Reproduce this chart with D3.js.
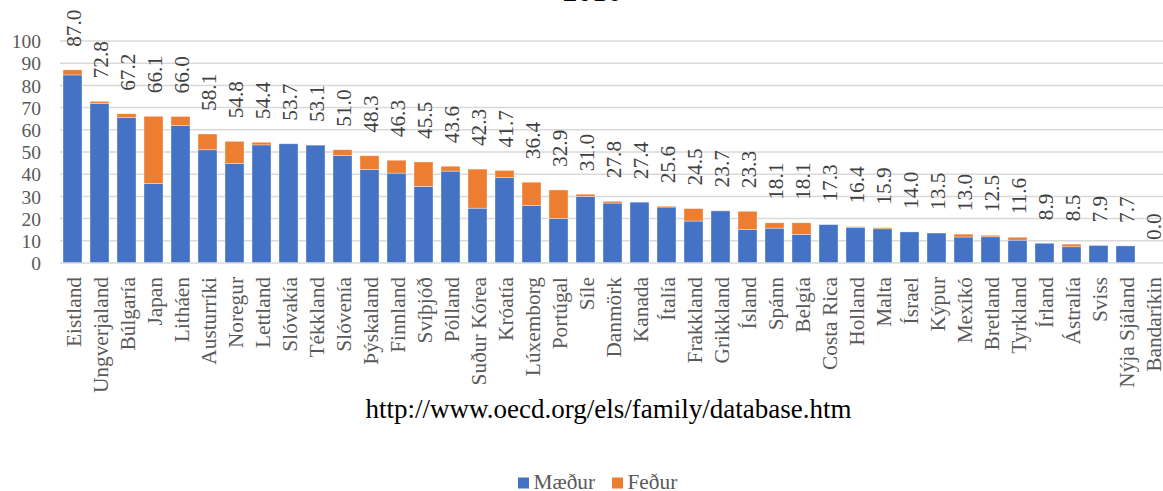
<!DOCTYPE html>
<html>
<head>
<meta charset="utf-8">
<script src="https://cdn.jsdelivr.net/npm/d3@7"></script>
<style>
  html, body { margin: 0; padding: 0; background: #fff; }
  svg { display: block; }
  text { font-family: "Liberation Serif", "Times New Roman", serif; }
</style>
</head>
<body>
<svg id="chart" width="1163" height="491"></svg>
<script>
const categories = ["Eistland","Ungverjaland","Búlgaría","Japan","Litháen","Austurríki","Noregur","Lettland","Slóvakía","Tékkland","Slóvenía","Þýskaland","Finnland","Svíþjóð","Pólland","Suður Kórea","Króatía","Lúxemborg","Portúgal","Síle","Danmörk","Kanada","Ítalía","Frakkland","Grikkland","Ísland","Spánn","Belgía","Costa Rica","Holland","Malta","Ísrael","Kýpur","Mexíkó","Bretland","Tyrkland","Írland","Ástralía","Sviss","Nýja Sjáland","Bandaríkin"];
const totals = [87.0,72.8,67.2,66.1,66.0,58.1,54.8,54.4,53.7,53.1,51.0,48.3,46.3,45.5,43.6,42.3,41.7,36.4,32.9,31.0,27.8,27.4,25.6,24.5,23.7,23.3,18.1,18.1,17.3,16.4,15.9,14.0,13.5,13.0,12.5,11.6,8.9,8.5,7.9,7.7,0.0];
const mothers = [84.7,71.8,65.5,35.8,61.9,51.0,44.8,53.2,53.7,53.1,48.4,42.1,40.5,34.5,41.4,24.7,38.5,25.9,20.1,30.0,27.0,27.4,25.2,18.9,23.5,15.1,15.7,12.9,17.3,15.9,15.4,14.0,13.5,11.7,11.8,10.3,8.9,7.3,7.9,7.7,0.0];
const fathers = totals.map((t, i) => Math.max(0, +(t - mothers[i]).toFixed(1)));
const yTicks = [0,10,20,30,40,50,60,70,80,90,100];
const seriesNames = ["Mæður", "Feður"];
const seriesColors = ["#4472C4", "#ED7D31"];
const titleText = "2016";
const sourceText = "http://www.oecd.org/els/family/database.htm";

const svg = d3.select("#chart");
const x = d3.scaleBand().domain(categories).range([59, 1166]).paddingInner(0.296).paddingOuter(0.148);
const y = d3.scaleLinear().domain([0, 100]).range([263, 41]);

// title (cut off at top, as in the reference)
svg.append("text").attr("x", 592).attr("y", 0.5).attr("text-anchor", "middle")
  .attr("font-size", 29.33).attr("fill", "#000").text(titleText);

// gridlines
svg.append("g").selectAll("line").data(yTicks.filter(d => d > 0)).join("line")
  .attr("x1", 60).attr("x2", 1163)
  .attr("y1", d => y(d)).attr("y2", d => y(d))
  .attr("stroke", "#d9d9d9").attr("stroke-width", 1.5);

// y axis labels
const yAxis = d3.axisLeft(y).tickValues(yTicks).tickSize(0).tickPadding(0);
const gy = svg.append("g").attr("transform", "translate(41,0)").call(yAxis);
gy.select(".domain").remove();
gy.selectAll("text").attr("font-family", "Liberation Serif").attr("font-size", 19.5)
  .attr("fill", "#595959").attr("dy", "0.34em");

// stacked data
const rows = categories.map((c, i) => ({ cat: c, m: mothers[i], f: fathers[i], t: totals[i] }));
const stack = d3.stack().keys(["m", "f"])(rows);

svg.append("g").selectAll("g").data(stack).join("g")
  .attr("fill", (d, i) => seriesColors[i])
  .selectAll("rect").data(d => d).join("rect")
  .attr("x", d => x(d.data.cat))
  .attr("width", x.bandwidth())
  .attr("y", d => y(d[1]))
  .attr("height", d => Math.max(0, y(d[0]) - y(d[1])))
  .attr("stroke", "#ffffff").attr("stroke-width", 0.6).attr("stroke-opacity", 0.6);

// x axis line
svg.append("line").attr("x1", 60).attr("x2", 1163).attr("y1", y(0)).attr("y2", y(0))
  .attr("stroke", "#d9d9d9").attr("stroke-width", 1.5);

// x labels
svg.append("g").selectAll("text").data(categories).join("text")
  .attr("transform", d => `translate(${x(d) + x.bandwidth() / 2 + 1},277) rotate(-90)`)
  .attr("text-anchor", "end").attr("dy", "0.34em")
  .attr("font-size", 21.33).attr("fill", "#595959").text(d => d);

// data labels
svg.append("g").selectAll("text").data(rows).join("text")
  .attr("transform", d => `translate(${x(d.cat) + x.bandwidth() / 2 + 1.5},${y(d.t) - 23}) rotate(-90)`)
  .attr("text-anchor", "start").attr("dy", "0.34em")
  .attr("font-size", 21.33).attr("fill", "#404040").text(d => d.t.toFixed(1));

// source
svg.append("text").attr("x", 608.5).attr("y", 418).attr("text-anchor", "middle")
  .attr("font-size", 27).attr("fill", "#000").text(sourceText);

// legend
const leg = svg.append("g");
const legX = [518, 612];
seriesNames.forEach((n, i) => {
  leg.append("rect").attr("x", legX[i]).attr("y", 477.5).attr("width", 11).attr("height", 11).attr("fill", seriesColors[i]);
  leg.append("text").attr("x", legX[i] + 15.5).attr("y", 488.5).attr("font-size", 21.33).attr("fill", "#595959").text(n);
});
</script>
</body>
</html>
